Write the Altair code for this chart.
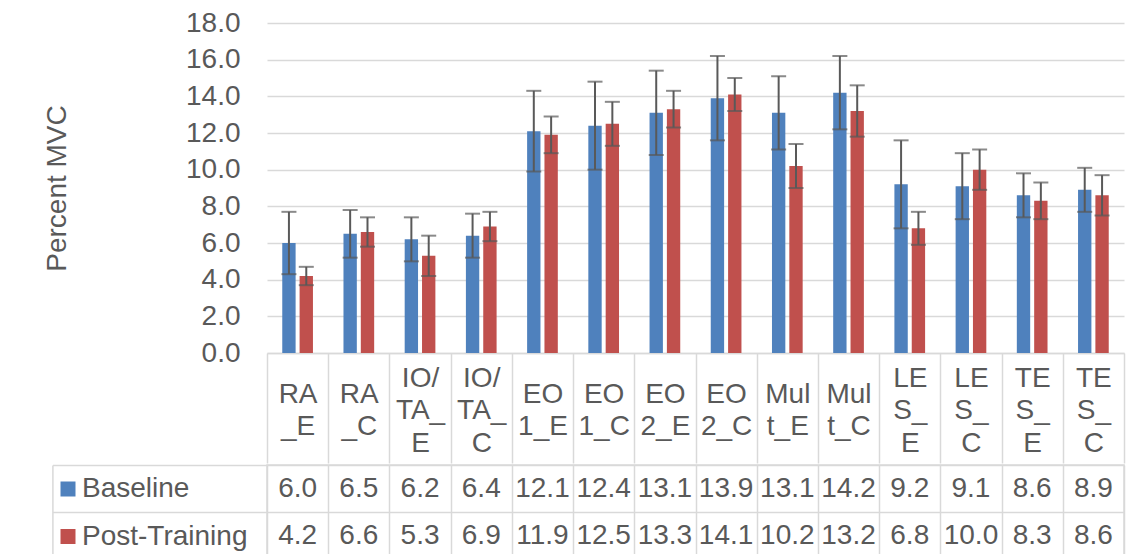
import json
import altair as alt
import pandas as pd

categories = ["RA_E", "RA_C", "IO/TA_E", "IO/TA_C", "EO1_E", "EO1_C", "EO2_E",
              "EO2_C", "Mult_E", "Mult_C", "LES_E", "LES_C", "TES_E", "TES_C"]
header_lines = [["RA", "_E"], ["RA", "_C"], ["IO/", "TA_", "E"], ["IO/", "TA_", "C"],
                ["EO", "1_E"], ["EO", "1_C"], ["EO", "2_E"], ["EO", "2_C"],
                ["Mul", "t_E"], ["Mul", "t_C"], ["LE", "S_", "E"], ["LE", "S_", "C"],
                ["TE", "S_", "E"], ["TE", "S_", "C"]]
series = ["Baseline", "Post-Training"]
baseline = [6.0, 6.5, 6.2, 6.4, 12.1, 12.4, 13.1, 13.9, 13.1, 14.2, 9.2, 9.1, 8.6, 8.9]
post_training = [4.2, 6.6, 5.3, 6.9, 11.9, 12.5, 13.3, 14.1, 10.2, 13.2, 6.8, 10.0, 8.3, 8.6]
baseline_err = [1.7, 1.3, 1.2, 1.2, 2.2, 2.4, 2.3, 2.3, 2.0, 2.0, 2.4, 1.8, 1.2, 1.2]
post_err = [0.5, 0.8, 1.1, 0.8, 1.0, 1.2, 1.0, 0.9, 1.2, 1.4, 0.9, 1.1, 1.0, 1.1]
y_ticks = [0, 2, 4, 6, 8, 10, 12, 14, 16, 18]
colors = ["#4F81BD", "#C0504D"]

rows = []
for s, vals, errs in [(series[0], baseline, baseline_err), (series[1], post_training, post_err)]:
    for c, v, e in zip(categories, vals, errs):
        rows.append({"cat": c, "series": s, "value": v, "lo": v - e, "hi": v + e})
df = pd.DataFrame(rows)

GRID = "#D9D9D9"
TXT = "#595959"
FS = 28
W = 857

label_map = json.dumps(dict(zip(categories, header_lines)))
three_line = json.dumps([c for c, h in zip(categories, header_lines) if len(h) == 3])

x_axis_top = alt.Axis(title=None, orient="bottom", tickBand="extent", ticks=True,
                      tickSize=110, tickColor=GRID, tickWidth=1.5,
                      domain=True, domainColor=GRID, domainWidth=1.5,
                      grid=False, labelAngle=0, labelFontSize=FS, labelColor=TXT,
                      labelBaseline=alt.condition(
                          "indexof(" + three_line + ", datum.value) >= 0",
                          alt.value("line-bottom"), alt.value("middle")),
                      labelPadding=-69, labelLineHeight=32.5,
                      labelOverlap=False,
                      labelExpr=label_map + "[datum.value]")
x_top = alt.X("cat:N", sort=categories,
              scale=alt.Scale(paddingInner=0, paddingOuter=0), axis=x_axis_top)
xoff = alt.XOffset("series:N", sort=series,
                   scale=alt.Scale(paddingInner=0.23, paddingOuter=0.88))
yscale = alt.Scale(domain=[0, 18], nice=False)
y_axis = alt.Axis(title="Percent MVC", values=y_ticks, format=".1f",
                  ticks=False, domain=False, grid=True, gridColor=GRID,
                  gridWidth=1.5, labelFontSize=FS, labelColor=TXT,
                  labelOverlap=False,
                  labelPadding=27, titleFontSize=FS, titleFontWeight="normal",
                  titleColor=TXT, titlePadding=114)

base = alt.Chart(df)
bars = base.mark_bar().encode(
    x=x_top, xOffset=xoff,
    y=alt.Y("value:Q", scale=yscale, axis=y_axis),
    color=alt.Color("series:N", sort=series,
                    scale=alt.Scale(domain=series, range=colors), legend=None),
)
err = base.mark_rule(color="#595959", strokeWidth=2).encode(
    x=x_top, xOffset=xoff,
    y=alt.Y("lo:Q", scale=yscale, axis=y_axis), y2="hi:Q")
cap_lo = base.mark_tick(color="#595959", thickness=2, size=15).encode(
    x=x_top, xOffset=xoff, y=alt.Y("lo:Q", scale=yscale, axis=y_axis))
cap_hi = base.mark_tick(color="#595959", thickness=2, size=15).encode(
    x=x_top, xOffset=xoff, y=alt.Y("hi:Q", scale=yscale, axis=y_axis))

top = alt.layer(bars, err, cap_lo, cap_hi).properties(
    width=W, height=330, view=alt.ViewBackground(stroke="transparent"))

x_tab = alt.X("cat:N", sort=categories,
              scale=alt.Scale(paddingInner=0, paddingOuter=0),
              axis=alt.Axis(title=None, orient="top", labels=False, ticks=False,
                            domain=False, grid=True, tickBand="extent",
                            gridColor=GRID, gridWidth=1.5))
text = base.mark_text(fontSize=FS, color=TXT).encode(
    x=x_tab,
    y=alt.Y("series:N", sort=series, scale=alt.Scale(paddingInner=0, paddingOuter=0),
            axis=alt.Axis(title=None, labels=False, ticks=True, tickSize=214.6,
                          tickColor=GRID, tickWidth=1.5, tickBand="extent",
                          grid=True, gridColor=GRID, gridWidth=1.5, domain=False)),
    text=alt.Text("value:Q", format=".1f"),
)
legend_layer = base.mark_square(opacity=0).encode(
    x=alt.X("cat:N", sort=categories),
    y=alt.Y("series:N", sort=series,
            axis=alt.Axis(title=None, orient="left", offset=214.6, labels=False,
                          ticks=False, grid=False, domain=True, domainColor=GRID,
                          domainWidth=1.5)),
    color=alt.Color("series:N", sort=series,
                    scale=alt.Scale(domain=series, range=colors),
                    legend=alt.Legend(title=None, orient="none", legendX=-213, legendY=10,
                                      direction="vertical", symbolType="square",
                                      symbolSize=225, symbolOpacity=1, symbolStrokeWidth=0,
                                      labelFontSize=FS, labelColor=TXT, labelOffset=0,
                                      labelLimit=400, rowPadding=19.5, padding=0)),
)
table = alt.layer(text, legend_layer).resolve_axis(y="independent").properties(
    width=W, height=94, view=alt.ViewBackground(stroke=GRID, strokeWidth=1.5))

chart = alt.vconcat(top, table, spacing=-3).resolve_scale(color="independent").properties(
    padding={"left": 35, "top": 0, "right": 0, "bottom": 0}
).configure(font="Liberation Sans")

chart.save("out.html", embed_options={"renderer": "svg", "actions": False})
